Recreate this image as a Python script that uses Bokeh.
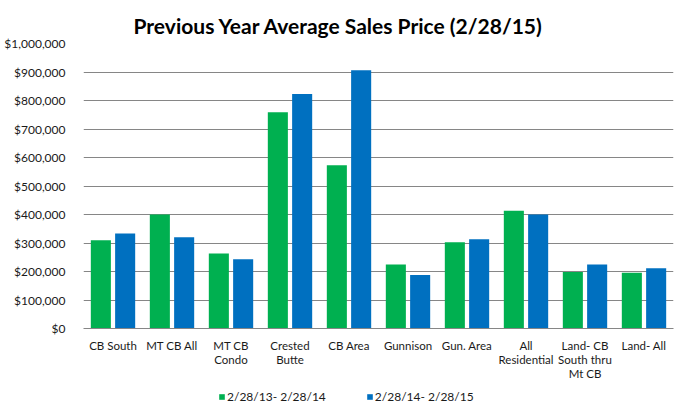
from bokeh.plotting import figure
from bokeh.models import (ColumnDataSource, FactorRange, NumeralTickFormatter, SingleIntervalTicker,
                          Legend, LegendItem, Range1d, CategoricalAxis)
from bokeh.layouts import column
from bokeh.transform import dodge
from bokeh.embed import file_html
from bokeh.resources import INLINE

categories = ["CB South", "MT CB All", "MT CB Condo", "Crested Butte", "CB Area",
              "Gunnison", "Gun. Area", "All Residential", "Land- CB South thru Mt CB", "Land- All"]
label_line1 = ["CB South", "MT CB All", "MT CB", "Crested", "CB Area",
               "Gunnison", "Gun. Area", "All", "Land- CB", "Land- All"]
label_line2 = ["", "", "Condo", "Butte", "", "", "", "Residential", "South thru", ""]
label_line3 = ["", "", "", "", "", "", "", "", "Mt CB", ""]
prev_year = [310000, 400000, 263000, 759000, 573000, 225000, 303000, 413000, 198000, 196000]
this_year = [333000, 320000, 243000, 823000, 906000, 188000, 313000, 400000, 225000, 211000]
series_names = ["2/28/13- 2/28/14", "2/28/14- 2/28/15"]
title_text = "Previous Year Average Sales Price (2/28/15)"
colors = ["#00B050", "#0070C0"]

FONT = "Lato"
src = ColumnDataSource(dict(cat=categories, a=prev_year, b=this_year))


def unique_factors(labels):
    # empty label lines become distinct blank factors
    return [lbl if lbl else " " * (i + 1) for i, lbl in enumerate(labels)]


p = figure(x_range=FactorRange(*categories), width=685, height=384,
           output_backend="svg", toolbar_location=None, title=title_text,
           x_axis_location=None)
p.y_range = Range1d(0, 1000000)
p.extra_x_ranges = {"l1": FactorRange(*unique_factors(label_line1)),
                    "l2": FactorRange(*unique_factors(label_line2)),
                    "l3": FactorRange(*unique_factors(label_line3))}

p.vbar(x=dodge("cat", -0.206, range=p.x_range), top="a", width=0.34, source=src,
       fill_color=colors[0], line_color=None)
p.vbar(x=dodge("cat", 0.206, range=p.x_range), top="b", width=0.34, source=src,
       fill_color=colors[1], line_color=None)

p.min_border_left = 83
p.min_border_right = 12
p.min_border_top = 43
p.min_border_bottom = 56
p.outline_line_color = None

p.title.align = "left"
p.title.offset = 50
p.title.standoff = 11
p.title.text_font = FONT
p.title.text_font_size = "21px"
p.title.text_font_style = "bold"
p.title.text_color = "#000000"

p.yaxis.ticker = SingleIntervalTicker(interval=100000)
p.yaxis.formatter = NumeralTickFormatter(format="$0,0")
p.yaxis.axis_line_color = None
p.yaxis.major_tick_line_color = None
p.yaxis.minor_tick_line_color = None
p.yaxis.major_tick_out = 0
p.yaxis.major_tick_in = 0
p.yaxis.major_label_standoff = 14
p.yaxis.major_label_text_font = FONT
p.yaxis.major_label_text_font_size = "12px"
p.yaxis.major_label_text_color = "#1a1a1a"


def make_xaxis(range_name, standoff, line_color=None):
    ax = CategoricalAxis(x_range_name=range_name)
    ax.axis_line_color = line_color
    ax.major_tick_line_color = None
    ax.minor_tick_line_color = None
    ax.major_tick_out = 0
    ax.major_tick_in = 0
    ax.major_label_standoff = standoff
    ax.major_label_text_font = FONT
    ax.major_label_text_font_size = "11.5px"
    ax.major_label_text_color = "#1a1a1a"
    p.add_layout(ax, "below")


make_xaxis("l1", 10, "#868686")
make_xaxis("l2", -2)
make_xaxis("l3", -2)

p.xgrid.grid_line_color = None
p.ygrid.grid_line_color = "#868686"
p.ygrid.grid_line_width = 1

# legend strip below the chart
lg = figure(width=685, height=28, output_backend="svg", toolbar_location=None,
            x_axis_location=None, y_axis_location=None,
            x_range=Range1d(0, 1), y_range=Range1d(0, 1))
lg.min_border = 0
lg.outline_line_color = None
lg.xgrid.grid_line_color = None
lg.ygrid.grid_line_color = None
hidden = ColumnDataSource(dict(x=[0.5], top=[0]))
r0 = lg.vbar(x="x", top="top", width=0.1, source=hidden, fill_color=colors[0], line_color=None)
r1 = lg.vbar(x="x", top="top", width=0.1, source=hidden, fill_color=colors[1], line_color=None)
legend = Legend(items=[LegendItem(label=series_names[0], renderers=[r0]),
                       LegendItem(label=series_names[1], renderers=[r1])],
                orientation="horizontal", location=(135, 8),
                glyph_width=7, glyph_height=7, label_height=12, label_standoff=2,
                spacing=40, padding=0, margin=0,
                label_text_font=FONT, label_text_font_size="12px",
                label_text_color="#1a1a1a",
                border_line_color=None, background_fill_alpha=0)
lg.add_layout(legend, "center")

layout = column(p, lg, spacing=0)
open("out.html", "w").write(file_html(layout, INLINE))
